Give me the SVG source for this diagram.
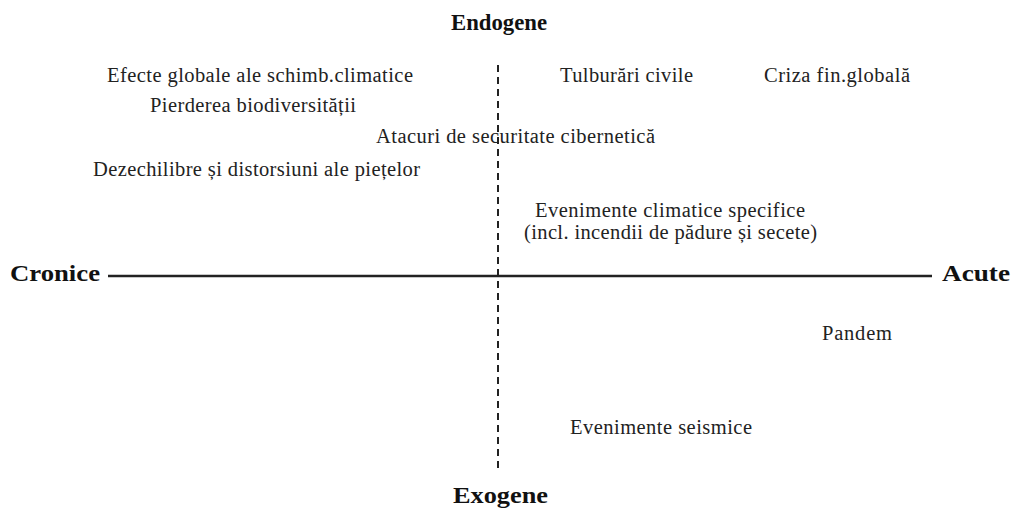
<svg xmlns="http://www.w3.org/2000/svg" width="1016" height="508" viewBox="0 0 1016 508">
<style>
.t{font-family:"Liberation Serif","Times New Roman",serif;font-size:20.5px;fill:#222}
.b{font-family:"Liberation Serif","Times New Roman",serif;font-size:24px;font-weight:bold;fill:#111}
.axis{stroke:#222;stroke-width:2.5;fill:none}
.dash{stroke:#222;stroke-width:2;stroke-dasharray:7 5;fill:none}
</style>
<rect width="1016" height="508" fill="#fff"/>
<g id="connectors">
<line class="axis" x1="108" y1="276" x2="932" y2="276"/>
<line class="dash" x1="498" y1="65" x2="498" y2="472"/>
</g>
<g id="endogene"><text class="b" x="451" y="30" textLength="96" lengthAdjust="spacingAndGlyphs">Endogene</text></g>
<g id="exogene"><text class="b" x="453" y="503" textLength="95" lengthAdjust="spacingAndGlyphs">Exogene</text></g>
<g id="cronice"><text class="b" x="10" y="281" textLength="90" lengthAdjust="spacingAndGlyphs">Cronice</text></g>
<g id="acute"><text class="b" x="942" y="281" textLength="68" lengthAdjust="spacingAndGlyphs">Acute</text></g>
<g id="efecte"><text class="t" x="107" y="82" textLength="306" lengthAdjust="spacing">Efecte globale ale schimb.climatice</text></g>
<g id="tulburari"><text class="t" x="560" y="82" textLength="133" lengthAdjust="spacing">Tulburări civile</text></g>
<g id="criza"><text class="t" x="764" y="82" textLength="146" lengthAdjust="spacing">Criza fin.globală</text></g>
<g id="pierderea"><text class="t" x="150" y="112" textLength="206" lengthAdjust="spacing">Pierderea biodiversității</text></g>
<g id="atacuri"><text class="t" x="376" y="143" textLength="279" lengthAdjust="spacing">Atacuri de securitate cibernetică</text></g>
<g id="dezechilibre"><text class="t" x="93" y="176" textLength="327" lengthAdjust="spacing">Dezechilibre și distorsiuni ale piețelor</text></g>
<g id="climatice">
<text class="t" x="535" y="217" textLength="270" lengthAdjust="spacing">Evenimente climatice specifice</text>
<text class="t" x="524" y="239" textLength="293" lengthAdjust="spacing">(incl. incendii de pădure și secete)</text>
</g>
<g id="pandem"><text class="t" x="822" y="340" textLength="70" lengthAdjust="spacing">Pandem</text></g>
<g id="seismice"><text class="t" x="570" y="434" textLength="182" lengthAdjust="spacing">Evenimente seismice</text></g>
</svg>
